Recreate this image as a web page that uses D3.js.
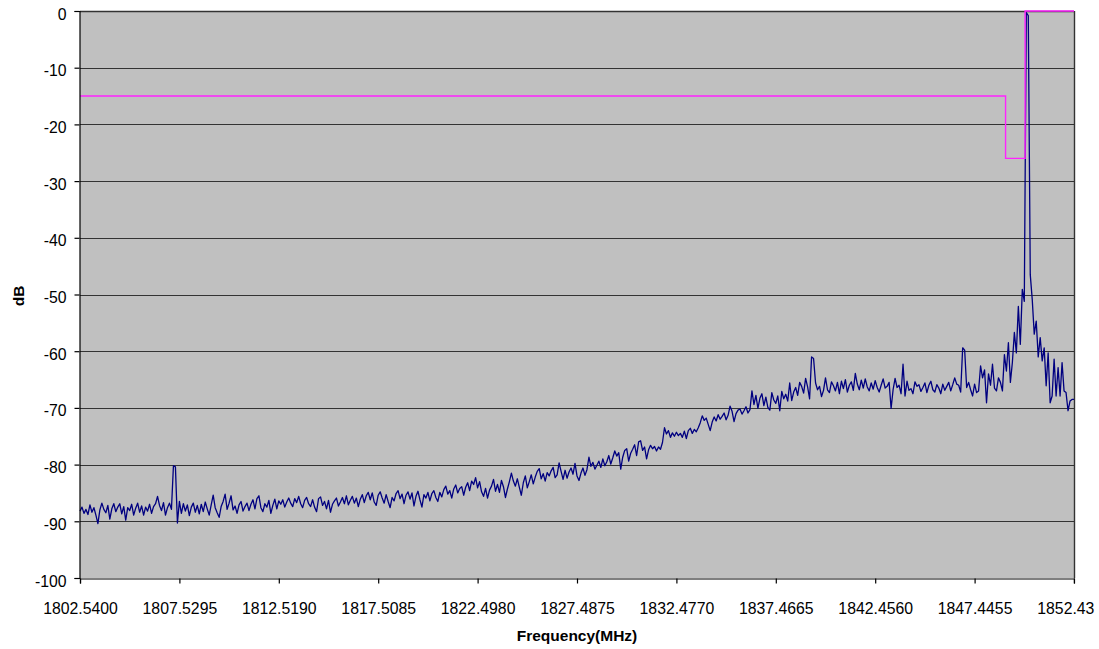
<!DOCTYPE html>
<html>
<head>
<meta charset="utf-8">
<script src="https://cdn.jsdelivr.net/npm/d3@7"></script>
<style>
  html, body { margin: 0; padding: 0; background: #ffffff; }
  svg { display: block; }
  text { font-family: Arial, "Liberation Sans", sans-serif; }
</style>
</head>
<body>
<svg id="chart" width="1099" height="649"></svg>
<script>
// Spectrum sweep: first sample frequency and spacing between samples (MHz)
const freqStart = 1802.54;
const freqStep = 0.09979;

// Measured level per sample (dB)
const spectrum = [
  -88.2,-87.5,-88.6,-87.9,-88.8,-87.1,-88.4,-87.6,-88.9,-90.4,
  -88.0,-86.8,-87.9,-88.5,-87.2,-89.6,-87.8,-86.9,-88.3,-87.5,
  -86.9,-88.7,-87.4,-89.8,-87.6,-88.1,-87.0,-88.9,-87.7,-86.8,
  -88.4,-87.3,-88.9,-87.5,-88.2,-87.0,-88.6,-87.4,-86.9,-85.6,
  -87.2,-88.1,-86.7,-88.9,-87.6,-86.8,-87.9,-80.2,-80.4,-90.3,
  -86.5,-88.6,-86.9,-88.2,-87.1,-89.0,-87.5,-86.8,-88.4,-87.2,
  -88.7,-87.0,-88.3,-86.6,-87.8,-88.9,-87.1,-85.4,-87.6,-88.5,
  -89.3,-87.4,-86.5,-85.2,-87.9,-86.8,-85.5,-88.0,-87.3,-88.6,
  -87.1,-86.5,-88.2,-87.4,-86.8,-88.1,-87.0,-86.2,-87.8,-86.0,
  -85.5,-87.6,-88.3,-86.9,-87.5,-86.3,-88.6,-87.2,-86.1,-87.8,
  -86.4,-87.0,-86.2,-87.5,-86.6,-85.9,-86.8,-87.4,-86.0,-86.7,
  -85.6,-86.9,-87.6,-86.3,-85.8,-86.9,-87.4,-86.2,-87.5,-88.3,
  -86.0,-85.7,-87.2,-86.5,-87.8,-86.3,-88.4,-87.0,-86.4,-85.9,
  -87.3,-86.6,-85.8,-86.9,-85.5,-87.1,-86.3,-85.6,-86.8,-85.9,
  -87.4,-86.1,-85.3,-86.7,-85.5,-84.9,-86.2,-85.0,-86.6,-87.2,
  -85.4,-84.8,-85.9,-86.8,-85.3,-86.5,-87.6,-85.8,-86.4,-85.1,
  -84.6,-86.0,-85.2,-86.9,-85.4,-84.8,-86.1,-85.0,-87.3,-85.6,
  -84.7,-86.2,-87.5,-85.3,-85.9,-84.9,-86.4,-85.1,-84.6,-85.8,
  -86.5,-84.9,-85.7,-84.4,-83.8,-85.2,-84.6,-85.9,-84.3,-83.6,
  -85.0,-84.2,-83.9,-85.4,-84.0,-83.2,-84.6,-82.9,-83.5,-82.3,
  -84.1,-83.0,-84.8,-85.6,-84.2,-85.9,-84.5,-83.8,-82.6,-84.7,
  -83.5,-84.9,-82.8,-83.9,-85.8,-84.3,-83.0,-81.5,-82.9,-83.8,
  -82.5,-84.0,-85.4,-83.2,-82.0,-84.1,-83.0,-81.8,-83.4,-82.2,
  -81.2,-80.7,-82.5,-81.6,-82.9,-81.4,-82.0,-81.1,-80.5,-82.3,
  -81.8,-79.7,-81.2,-82.6,-81.0,-82.4,-81.3,-80.6,-81.7,-79.8,
  -82.0,-82.8,-81.5,-80.6,-81.9,-80.9,-78.7,-80.3,-79.6,-80.8,
  -80.1,-79.4,-80.5,-79.0,-80.2,-79.5,-78.4,-79.9,-78.8,-77.6,
  -78.5,-77.9,-80.8,-78.7,-77.5,-77.2,-79.4,-78.0,-77.3,-76.5,
  -78.4,-76.0,-75.8,-77.5,-76.9,-79.0,-77.4,-76.6,-77.2,-76.8,
  -77.6,-76.9,-77.3,-76.1,-73.5,-74.6,-74.0,-75.2,-74.4,-75.0,
  -74.3,-74.9,-74.5,-75.2,-74.1,-75.4,-74.0,-73.6,-74.5,-73.8,
  -74.2,-73.5,-72.6,-71.4,-72.2,-71.8,-72.9,-74.0,-72.5,-71.6,
  -72.3,-71.2,-72.0,-71.5,-70.9,-72.1,-71.3,-69.7,-70.6,-72.4,
  -71.0,-70.4,-70.2,-71.1,-70.5,-69.8,-70.9,-70.3,-67.0,-69.4,
  -67.8,-70.1,-68.3,-67.5,-69.6,-68.1,-69.9,-70.4,-67.3,-68.6,
  -69.2,-67.9,-70.5,-67.1,-68.4,-67.6,-68.8,-65.6,-68.7,-67.2,
  -66.4,-67.8,-65.5,-66.2,-67.4,-64.8,-66.3,-68.4,-61.0,-61.3,
  -65.6,-66.8,-66.2,-68.0,-66.9,-64.7,-66.8,-67.3,-65.4,-66.1,
  -67.0,-65.5,-67.5,-65.3,-66.6,-65.0,-67.2,-66.0,-65.4,-66.9,
  -63.9,-65.8,-66.8,-65.1,-66.5,-64.9,-66.3,-67.0,-65.6,-66.7,
  -65.2,-66.4,-67.2,-66.0,-64.9,-66.5,-66.2,-65.5,-70.1,-66.8,
  -64.8,-66.4,-66.0,-67.5,-62.3,-67.9,-65.3,-66.9,-66.6,-67.5,
  -65.4,-66.2,-65.9,-67.1,-66.4,-65.6,-67.3,-66.0,-65.3,-66.8,
  -67.2,-65.9,-66.5,-67.5,-65.8,-66.9,-66.2,-65.5,-67.0,-65.9,
  -64.7,-65.8,-66.0,-67.2,-59.4,-59.8,-66.4,-65.5,-66.8,-67.9,
  -65.8,-67.3,-67.0,-62.6,-64.7,-63.3,-69.1,-64.0,-66.0,-62.3,
  -66.5,-67.0,-64.7,-65.5,-67.0,-60.6,-63.5,-58.5,-65.5,-62.0,
  -56.7,-60.3,-52.1,-58.8,-49.1,-51.2,-0.3,-0.8,-46.5,-50.9,
  -57.0,-54.7,-61.0,-57.6,-61.7,-59.4,-66.1,-60.3,-69.1,-67.9,
  -61.4,-67.9,-62.9,-67.9,-62.0,-67.0,-67.3,-70.5,-68.8,-68.5,
  -68.5
];

// Emission limit mask: corner frequencies (MHz) and levels (dB)
const maskFreq  = [1802.54, 1849.00, 1849.00, 1849.98, 1849.98, 1852.435];
const maskLevel = [-15, -15, -26, -26, 0, 0];

// Axis ticks
const yTicks = [0, -10, -20, -30, -40, -50, -60, -70, -80, -90, -100];
const xTickLabels = ["1802.5400", "1807.5295", "1812.5190", "1817.5085", "1822.4980",
                     "1827.4875", "1832.4770", "1837.4665", "1842.4560", "1847.4455", "1852.43"];

const svg = d3.select("#chart");
const plot = { left: 80, top: 11, right: 1074, bottom: 578 };

const x = d3.scaleLinear()
  .domain([1802.54, 1852.435])
  .range([plot.left, plot.right]);
const y = d3.scaleLinear()
  .domain([-100, 0])
  .range([plot.bottom, plot.top]);

// Plot area background
svg.append("rect")
  .attr("x", plot.left).attr("y", plot.top)
  .attr("width", plot.right - plot.left)
  .attr("height", plot.bottom - plot.top)
  .attr("fill", "#c0c0c0");

// Horizontal gridlines
svg.append("g")
  .selectAll("line")
  .data(yTicks.filter(d => d !== -100))
  .join("line")
  .attr("x1", plot.left).attr("x2", plot.right)
  .attr("y1", d => Math.round(y(d)) + 0.5)
  .attr("y2", d => Math.round(y(d)) + 0.5)
  .attr("stroke", "#333333")
  .attr("stroke-width", d => d === 0 ? 1.6 : 1.2);

// Right border of plot area
svg.append("line")
  .attr("x1", plot.right + 0.5).attr("x2", plot.right + 0.5)
  .attr("y1", plot.top).attr("y2", plot.bottom)
  .attr("stroke", "#333333").attr("stroke-width", 1.4);

// Spectrum trace
const traceLine = d3.line()
  .x((d, i) => x(freqStart + i * freqStep))
  .y(d => y(d));
svg.append("path")
  .datum(spectrum)
  .attr("d", traceLine)
  .attr("fill", "none")
  .attr("stroke", "#000080")
  .attr("stroke-width", 1.3)
  .attr("stroke-linejoin", "round");

// Limit mask
const maskLine = d3.line()
  .x(d => x(d[0]))
  .y(d => y(d[1]));
svg.append("path")
  .datum(d3.zip(maskFreq, maskLevel))
  .attr("d", maskLine)
  .attr("fill", "none")
  .attr("stroke", "#ff22ff")
  .attr("stroke-width", 1.4);

// Y axis (plain hyphen-minus labels)
const yAxis = svg.append("g")
  .attr("transform", `translate(${plot.left - 0.5},0)`)
  .call(d3.axisLeft(y).tickValues(yTicks).tickSize(5).tickFormat(d => String(d)));
yAxis.select(".domain").attr("stroke", "#000").attr("stroke-width", 1.2);
yAxis.selectAll(".tick line").attr("stroke", "#000").attr("stroke-width", 1.2);
yAxis.selectAll(".tick text")
  .attr("x", -13).attr("dy", null).attr("y", 8)
  .attr("font-size", "15.8px")
  .attr("font-family", "Arial, 'Liberation Sans', sans-serif")
  .attr("fill", "#000");

// X axis
const xAxis = svg.append("g")
  .attr("transform", `translate(0,${plot.bottom + 0.5})`)
  .call(d3.axisBottom(x)
    .tickValues(xTickLabels.map(Number))
    .tickFormat((d, i) => xTickLabels[i])
    .tickSize(5));
xAxis.select(".domain").attr("stroke", "#000").attr("stroke-width", 1.2);
xAxis.selectAll(".tick line").attr("stroke", "#000").attr("stroke-width", 1.2);
const xLabels = xAxis.selectAll(".tick text")
  .attr("dy", null).attr("y", 35)
  .attr("font-size", "15.8px")
  .attr("font-family", "Arial, 'Liberation Sans', sans-serif")
  .attr("fill", "#000");
// keep the last label inside the canvas
xLabels.filter((d, i, nodes) => i === nodes.length - 1)
  .attr("text-anchor", "end")
  .attr("x", 20);

// Axis titles
svg.append("text")
  .attr("x", 577).attr("y", 641)
  .attr("text-anchor", "middle")
  .attr("font-size", "15.5px")
  .attr("font-weight", "bold")
  .text("Frequency(MHz)");

svg.append("text")
  .attr("transform", "translate(24,296) rotate(-90)")
  .attr("text-anchor", "middle")
  .attr("font-size", "15.5px")
  .attr("font-weight", "bold")
  .text("dB");
</script>
</body>
</html>
